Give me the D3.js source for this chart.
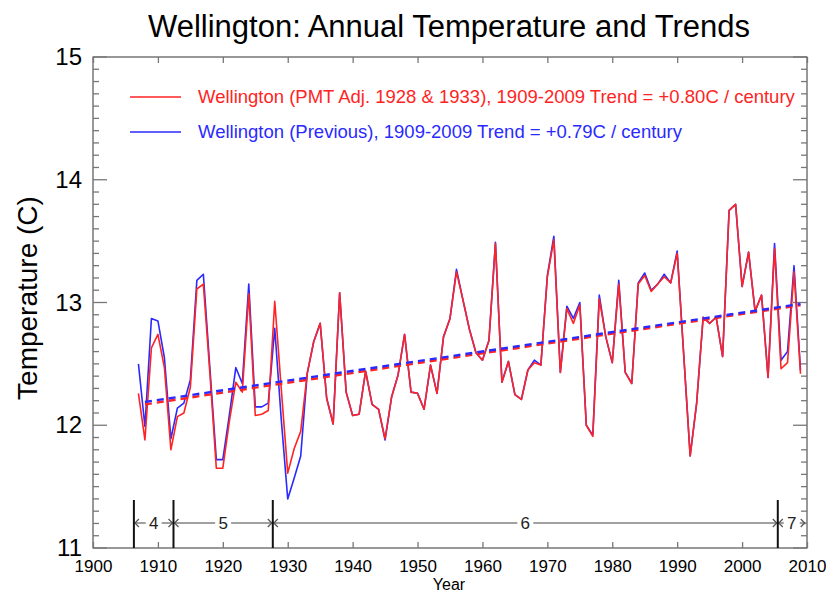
<!DOCTYPE html>
<html>
<head>
<meta charset="utf-8">
<script src="https://cdn.jsdelivr.net/npm/d3@7"></script>
<style>
  body { margin: 0; background: #fff; }
  svg { display: block; font-family: 'Liberation Sans', Arial, Helvetica, sans-serif; }
</style>
</head>
<body>
<svg id="chart" width="826" height="593"></svg>
<script>
// Annual mean temperature, Wellington, one value per year starting at firstYear
const firstYear = 1907;

// PMT-adjusted record (1928 & 1933 adjustments)
const adjusted = [
  12.26, 11.88, 12.63, 12.74, 12.47, 11.80, 12.07, 12.10, 12.31, 13.11, // 1907-1916
  13.15, 12.43, 11.65, 11.65, 12.03, 12.35, 12.27, 13.07, 12.08, 12.09, // 1917-1926
  12.12, 13.01, 12.30, 11.61, 11.81, 11.95, 12.42, 12.68, 12.83, 12.22, // 1927-1936
  12.01, 13.08, 12.27, 12.08, 12.09, 12.44, 12.17, 12.13, 11.89, 12.23, // 1937-1946
  12.41, 12.74, 12.27, 12.26, 12.13, 12.49, 12.26, 12.72, 12.87, 13.25, // 1947-1956
  13.02, 12.78, 12.59, 12.53, 12.69, 13.48, 12.35, 12.52, 12.25, 12.21, // 1957-1966
  12.45, 12.51, 12.49, 13.21, 13.51, 12.43, 12.95, 12.83, 12.98, 12.00, // 1967-1976
  11.91, 13.03, 12.72, 12.51, 13.15, 12.43, 12.34, 13.15, 13.22, 13.09, // 1977-1986
  13.15, 13.21, 13.16, 13.40, 12.58, 11.75, 12.18, 12.88, 12.83, 12.88, // 1987-1996
  12.56, 13.75, 13.80, 13.13, 13.41, 12.93, 13.06, 12.39, 13.44, 12.46, // 1997-2006
  12.51, 13.25, 12.42                                                   // 2007-2009
];

// Previous published record
const previous = [
  12.50, 11.99, 12.87, 12.85, 12.55, 11.89, 12.14, 12.18, 12.37, 13.18, // 1907-1916
  13.23, 12.47, 11.72, 11.72, 12.08, 12.47, 12.34, 13.15, 12.15, 12.15, // 1917-1926
  12.18, 12.79, 12.05, 11.40, 11.57, 11.75, 12.42, 12.68, 12.83, 12.22, // 1927-1936
  12.01, 13.08, 12.27, 12.08, 12.09, 12.44, 12.17, 12.13, 11.88, 12.23, // 1937-1946
  12.41, 12.74, 12.27, 12.26, 12.13, 12.49, 12.26, 12.72, 12.87, 13.27, // 1947-1956
  13.02, 12.78, 12.59, 12.53, 12.69, 13.49, 12.35, 12.52, 12.25, 12.21, // 1957-1966
  12.45, 12.53, 12.49, 13.22, 13.54, 12.43, 12.97, 12.87, 13.00, 12.00, // 1967-1976
  11.92, 13.06, 12.72, 12.51, 13.18, 12.43, 12.34, 13.16, 13.24, 13.10, // 1977-1986
  13.15, 13.23, 13.16, 13.42, 12.58, 11.75, 12.18, 12.88, 12.83, 12.88, // 1987-1996
  12.56, 13.75, 13.80, 13.13, 13.41, 12.93, 13.06, 12.39, 13.48, 12.53, // 1997-2006
  12.60, 13.30, 12.45                                                   // 2007-2009
];

// Linear trends (slope in degrees C per century, value at the start year)
const trendAdjusted = { from: 1908, to: 2009, startValue: 12.17, perCentury: 0.80 };
const trendPrevious = { from: 1908, to: 2009, startValue: 12.19, perCentury: 0.79 };

const legendLabels = [
  "Wellington (PMT Adj. 1928 & 1933), 1909-2009 Trend = +0.80C / century",
  "Wellington (Previous), 1909-2009 Trend = +0.79C / century"
];

// Axis ticks
const xTickValues = [1900, 1910, 1920, 1930, 1940, 1950, 1960, 1970, 1980, 1990, 2000, 2010];
const yTickValues = [11, 12, 13, 14, 15];

// Station site periods along the bottom of the plot
const siteBreaks = [1906.3, 1912.4, 1927.7, 2005.5];
const sitePeriodEnds = [1906.3, 1912.4, 1927.7, 2005.5, 2009.8];
const siteLabels = ["4", "5", "6", "7"];

const RED = "#ff2424";
const BLUE = "#2a2aff";

const svg = d3.select("#chart");
const plot = { left: 93, right: 807, top: 57, bottom: 548 };

const x = d3.scaleLinear().domain([1900, 2010]).range([plot.left, plot.right]);
const y = d3.scaleLinear().domain([11, 15]).range([plot.bottom, plot.top]);

// Title
svg.append("text")
  .attr("x", 449).attr("y", 37)
  .attr("text-anchor", "middle")
  .attr("font-size", 31)
  .text("Wellington: Annual Temperature and Trends");

// Frame
svg.append("rect")
  .attr("x", plot.left).attr("y", plot.top)
  .attr("width", plot.right - plot.left).attr("height", plot.bottom - plot.top)
  .attr("fill", "none").attr("stroke", "#333").attr("stroke-width", 1);

// Minor y ticks every 0.1 degree on both sides, longer at whole degrees
const minorY = d3.range(110, 151).map(d => d / 10);
const tickColor = "#777";

function yAxisTicks(orientRight) {
  const g = svg.append("g");
  const sign = orientRight ? -1 : 1;
  const base = orientRight ? plot.right : plot.left;
  g.selectAll("line").data(minorY).join("line")
    .attr("x1", base).attr("x2", d => base + sign * (yTickValues.includes(d) ? 14 : 6))
    .attr("y1", d => y(d)).attr("y2", d => y(d))
    .attr("stroke", tickColor).attr("stroke-width", 1.3);
}
yAxisTicks(false);
yAxisTicks(true);

// Left axis labels
const yAxis = d3.axisLeft(y).tickValues(yTickValues).tickSize(0).tickPadding(11).tickFormat(d3.format("d"));
const gy = svg.append("g").attr("transform", `translate(${plot.left},0)`).call(yAxis);
gy.select(".domain").remove();
gy.selectAll("text").attr("font-size", 24).attr("font-family", "'Liberation Sans', Arial, sans-serif").attr("fill", "#000");

// Bottom axis with decade ticks pointing inward
const xAxis = d3.axisBottom(x).tickValues(xTickValues).tickSizeInner(-6).tickSizeOuter(0).tickPadding(12).tickFormat(d3.format("d"));
const gx = svg.append("g").attr("transform", `translate(0,${plot.bottom})`).call(xAxis);
gx.select(".domain").remove();
gx.selectAll("line").attr("stroke", tickColor).attr("stroke-width", 1.3);
gx.selectAll("text").attr("font-size", 17).attr("font-family", "'Liberation Sans', Arial, sans-serif").attr("fill", "#000");

// Top axis ticks
const xTop = d3.axisTop(x).tickValues(xTickValues).tickSizeInner(-6).tickSizeOuter(0).tickFormat("");
const gt = svg.append("g").attr("transform", `translate(0,${plot.top})`).call(xTop);
gt.select(".domain").remove();
gt.selectAll("line").attr("stroke", tickColor).attr("stroke-width", 1.3);

// Axis titles
svg.append("text")
  .attr("x", 449).attr("y", 590)
  .attr("text-anchor", "middle").attr("font-size", 16)
  .text("Year");

svg.append("text")
  .attr("transform", "translate(37,298) rotate(-90)")
  .attr("text-anchor", "middle").attr("font-size", 28)
  .text("Temperature (C)");

// Site period annotations
const annY = 523;
const ann = svg.append("g");
for (let i = 0; i < siteLabels.length; i++) {
  const x0 = x(sitePeriodEnds[i]), x1 = x(sitePeriodEnds[i + 1]);
  ann.append("line")
    .attr("x1", x0).attr("x2", x1).attr("y1", annY).attr("y2", annY)
    .attr("stroke", "#a0a0a0").attr("stroke-width", 2.2);
  ann.append("path")
    .attr("d", `M${x0 + 5},${annY - 4}L${x0 + 1},${annY}L${x0 + 5},${annY + 4}M${x1 - 5},${annY - 4}L${x1 - 1},${annY}L${x1 - 5},${annY + 4}`)
    .attr("fill", "none").attr("stroke", "#555").attr("stroke-width", 1.2);
  const mid = (x0 + x1) / 2;
  ann.append("rect")
    .attr("x", mid - 8).attr("y", annY - 9).attr("width", 16).attr("height", 18)
    .attr("fill", "#fff");
  ann.append("text")
    .attr("x", mid).attr("y", annY + 6)
    .attr("text-anchor", "middle").attr("font-size", 17).attr("fill", "#222")
    .text(siteLabels[i]);
}
ann.selectAll("line.bar").data(siteBreaks).join("line")
  .attr("class", "bar")
  .attr("x1", d => x(d)).attr("x2", d => x(d))
  .attr("y1", 500).attr("y2", plot.bottom)
  .attr("stroke", "#111").attr("stroke-width", 2);

// Data lines
const line = d3.line().x((d, i) => x(firstYear + i)).y(d => y(d));

svg.append("path").datum(previous)
  .attr("d", line).attr("fill", "none")
  .attr("stroke", BLUE).attr("stroke-width", 1.6).attr("stroke-linejoin", "round");
svg.append("path").datum(adjusted)
  .attr("d", line).attr("fill", "none")
  .attr("stroke", RED).attr("stroke-width", 1.6).attr("stroke-linejoin", "round");

// Trend lines
function trendPoints(t) {
  return [t.from, t.to].map(yr => [yr, t.startValue + t.perCentury * (yr - t.from) / 100]);
}
const tline = d3.line().x(d => x(d[0])).y(d => y(d[1]));
svg.append("path").datum(trendPoints(trendAdjusted))
  .attr("d", tline).attr("fill", "none")
  .attr("stroke", RED).attr("stroke-width", 2.4).attr("stroke-dasharray", "7,5");
svg.append("path").datum(trendPoints(trendPrevious))
  .attr("d", tline).attr("fill", "none")
  .attr("stroke", BLUE).attr("stroke-width", 2.4).attr("stroke-dasharray", "7,5");

// Legend
const legend = svg.append("g");
[[RED, 97], [BLUE, 132]].forEach(([c, ly], i) => {
  legend.append("line")
    .attr("x1", 130).attr("x2", 181).attr("y1", ly).attr("y2", ly)
    .attr("stroke", c).attr("stroke-width", 1.6);
  legend.append("text")
    .attr("x", 198).attr("y", ly + 6)
    .attr("font-size", 18.5).attr("fill", c)
    .text(legendLabels[i]);
});
</script>
</body>
</html>
